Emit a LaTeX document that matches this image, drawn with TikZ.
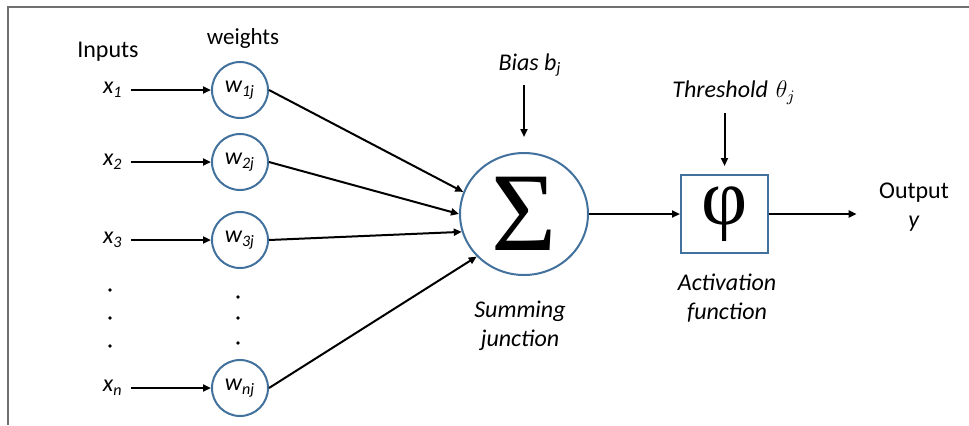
\documentclass[tikz,border=0pt,12pt]{standalone}
\usepackage{fontspec}
\setmainfont{Carlito}
\newfontfamily\greekserif{Liberation Serif}
\usetikzlibrary{positioning}
\usetikzlibrary{arrows.meta}
\usetikzlibrary{shapes.geometric}
\definecolor{nodeblue}{RGB}{65,113,156}
\definecolor{framegray}{RGB}{112,112,112}
\tikzset{weightcirc/.style={circle,draw=nodeblue,line width=1pt,fill=white,
inner sep=0pt,minimum size=28pt,font=\itshape}}
\tikzset{sumcirc/.style={ellipse,draw=nodeblue,line width=1pt,fill=white,
inner sep=0pt,minimum width=64pt,minimum height=61pt}}
\tikzset{actbox/.style={rectangle,draw=nodeblue,line width=1pt,fill=white,
inner sep=0pt,minimum width=43.5pt,minimum height=39pt}}
\tikzset{labeltext/.style={draw=none,font=\itshape,align=center}}
\tikzset{wire/.style={line width=1pt,-{Triangle[length=4pt,width=3.5pt]}}}

\begin{document}
\begin{tikzpicture}[x=0.5pt,y=-0.5pt]
    \useasboundingbox (0,0) rectangle (969,425);
    \draw[framegray,line width=1pt] (969,7) -- (8,7) -- (8,425);

    \node[labeltext,font=\normalfont] (inputs) at (108,52) {Inputs};
    \node[labeltext,font=\normalfont\fontsize{11.5}{13}\selectfont] (weights) at (243,38) {weights};

    \node[weightcirc] (wtA) at (240,90) {w\textsubscript{1j}};
    \node[weightcirc] (wtB) at (240,162) {w\textsubscript{2j}};
    \node[weightcirc] (wtC) at (240,240) {w\textsubscript{3j}};
    \node[weightcirc] (wtN) at (240,388) {w\textsubscript{nj}};

    \node[labeltext] (inA) [left=40pt of wtA] {x\textsubscript{1}};
    \node[labeltext] (inB) [left=40pt of wtB] {x\textsubscript{2}};
    \node[labeltext] (inC) [left=40pt of wtC] {x\textsubscript{3}};
    \node[labeltext] (inN) [left=40pt of wtN] {x\textsubscript{n}};

    \foreach \yy in {290,318,346} \fill (110,\yy) circle (0.9pt);
    \foreach \yy in {297,318,343} \fill (238,\yy) circle (0.9pt);

    \node[sumcirc] (sum) at (524,214) {\greekserif\fontsize{56}{56}\selectfont Σ};
    \node[actbox] (act) [right=45.5pt of sum] {\greekserif\fontsize{40}{40}\selectfont φ};

    \node[labeltext] (bias) at (530,65) {Bias b\textsubscript{j}};
    \node[labeltext] (thr) at (734,93) {Threshold\hspace{4pt}$\theta_j$};
    \node[labeltext,font=\normalfont] (out) at (914,207) {Output\\\textit{y}};
    \node[labeltext] (sumlabel) at (520,326) {Summing\\junction};
    \node[labeltext] (actlabel) at (727,298) {Activation\\function};

    \draw[wire] (inA) -- (wtA);
    \draw[wire] (inB) -- (wtB);
    \draw[wire] (inC) -- (wtC);
    \draw[wire] (inN) -- (wtN);

    \draw[wire] (wtA.east) -- (sum.160);
    \draw[wire] (wtB.east) -- (sum.180);
    \draw[wire] (wtC.east) -- (sum.196);
    \draw[wire] (wtN.east) -- (sum.222);

    \draw[wire,shorten >=7.5pt] (sum.north |- bias.south) -- (sum.north);
    \draw[wire,shorten >=4pt] (act.north |- thr.south) -- (act.north);
    \draw[wire] (sum) -- (act);
    \draw[wire,shorten >=7pt] (act.east) -- (act.east -| out.west);

\end{tikzpicture}
\end{document}
